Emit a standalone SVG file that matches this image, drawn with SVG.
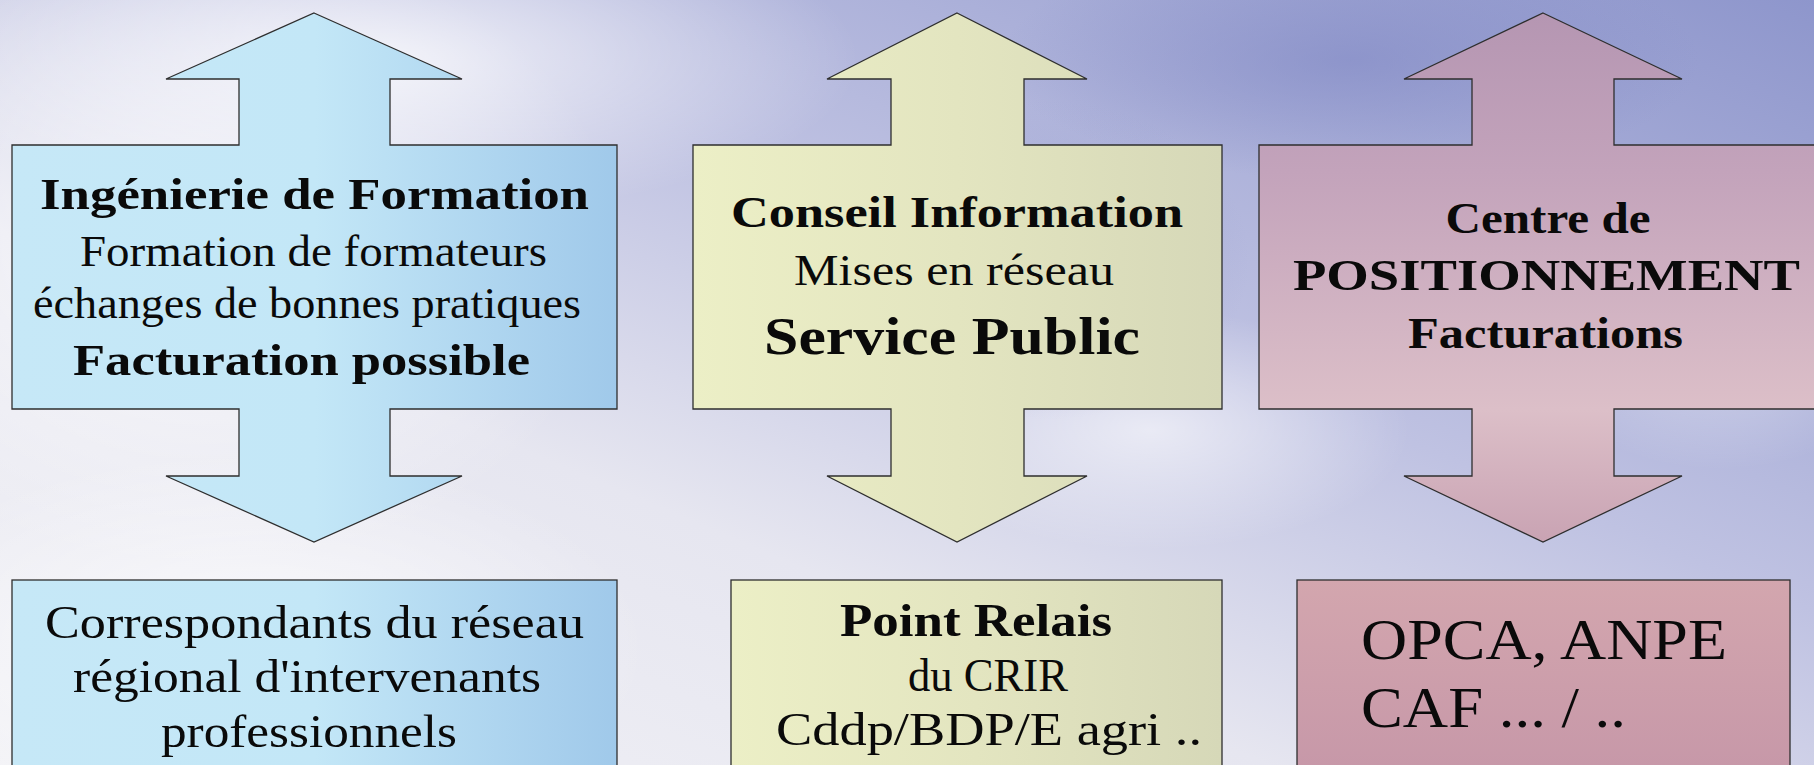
<svg xmlns="http://www.w3.org/2000/svg" width="1814" height="765" viewBox="0 0 1814 765">
<defs>
<linearGradient id="bg" x1="0" y1="1" x2="1" y2="0">
<stop offset="0" stop-color="#f2f2f6"/>
<stop offset="0.35" stop-color="#e6e6f0"/>
<stop offset="0.6" stop-color="#bfc2e2"/>
<stop offset="1" stop-color="#8e96cc"/>
</linearGradient>
<radialGradient id="cloudW" cx="0.5" cy="0.5" r="0.5">
<stop offset="0" stop-color="#ffffff" stop-opacity="0.75"/>
<stop offset="1" stop-color="#ffffff" stop-opacity="0"/>
</radialGradient>
<radialGradient id="cloudB" cx="0.5" cy="0.5" r="0.5">
<stop offset="0" stop-color="#8088c4" stop-opacity="0.6"/>
<stop offset="1" stop-color="#8088c4" stop-opacity="0"/>
</radialGradient>
<linearGradient id="blue" x1="0" y1="0" x2="1" y2="0">
<stop offset="0" stop-color="#c6e8f7"/>
<stop offset="0.5" stop-color="#c3e7f7"/>
<stop offset="1" stop-color="#a0c9ea"/>
</linearGradient>
<linearGradient id="yellow" x1="0" y1="0" x2="1" y2="0">
<stop offset="0" stop-color="#ecefc6"/>
<stop offset="0.5" stop-color="#e3e5c0"/>
<stop offset="1" stop-color="#d6d8b8"/>
</linearGradient>
<linearGradient id="pink" x1="0" y1="0" x2="0" y2="1">
<stop offset="0" stop-color="#b596b2"/>
<stop offset="0.3" stop-color="#c3a3bb"/>
<stop offset="0.75" stop-color="#dcbfc8"/>
<stop offset="1" stop-color="#c9a3b3"/>
</linearGradient>
<linearGradient id="pinkBox" x1="0" y1="0" x2="0" y2="1">
<stop offset="0" stop-color="#d3a6ae"/>
<stop offset="1" stop-color="#c697a8"/>
</linearGradient>
</defs>
<style>
.shape{stroke:#2e2e2e;stroke-width:1.3;stroke-linejoin:miter}
.t{font-family:"Liberation Serif","Times New Roman",serif;fill:#0a0a0a;text-anchor:middle}
.s{text-anchor:start}
.b{font-weight:bold}
.r{font-weight:normal}
</style>
<rect x="0" y="0" width="1814" height="765" fill="url(#bg)"/>
<ellipse cx="200" cy="250" rx="420" ry="320" fill="url(#cloudW)"/>
<ellipse cx="380" cy="60" rx="480" ry="160" fill="url(#cloudW)"/>
<ellipse cx="250" cy="650" rx="400" ry="200" fill="url(#cloudW)"/>
<ellipse cx="1150" cy="430" rx="260" ry="120" fill="url(#cloudW)" opacity="0.8"/>
<ellipse cx="1720" cy="330" rx="200" ry="140" fill="url(#cloudW)" opacity="0.6"/>
<ellipse cx="1350" cy="60" rx="350" ry="120" fill="url(#cloudB)"/>
<ellipse cx="1050" cy="260" rx="200" ry="160" fill="url(#cloudB)" opacity="0.5"/>
<g id="connectors"></g>
<g id="node-formation">
<polygon class="shape" fill="url(#blue)" points="314,13 462,79 390,79 390,145 617,145 617,409 390,409 390,476 462,476 314,542 166,476 239,476 239,409 12,409 12,145 239,145 239,79 166,79"/>
<text class="t b" x="314.5" y="209" font-size="44" textLength="549" lengthAdjust="spacingAndGlyphs">Ingénierie de Formation</text>
<text class="t r" x="313.5" y="266" font-size="44" textLength="467" lengthAdjust="spacingAndGlyphs">Formation de formateurs</text>
<text class="t r" x="307" y="318" font-size="44" textLength="548" lengthAdjust="spacingAndGlyphs">échanges de bonnes pratiques</text>
<text class="t b" x="301.5" y="375" font-size="44" textLength="457" lengthAdjust="spacingAndGlyphs">Facturation possible</text>
</g>
<g id="node-conseil">
<polygon class="shape" fill="url(#yellow)" points="957,13 1087,79 1024,79 1024,145 1222,145 1222,409 1024,409 1024,476 1087,476 957,542 827,476 891,476 891,409 693,409 693,145 891,145 891,79 827,79"/>
<text class="t b" x="957" y="227" font-size="44" textLength="452" lengthAdjust="spacingAndGlyphs">Conseil Information</text>
<text class="t r" x="954" y="285" font-size="44" textLength="320" lengthAdjust="spacingAndGlyphs">Mises en réseau</text>
<text class="t b" x="952" y="354" font-size="52" textLength="376" lengthAdjust="spacingAndGlyphs">Service Public</text>
</g>
<g id="node-positionnement">
<polygon class="shape" fill="url(#pink)" points="1543,13 1682,79 1614,79 1614,145 1827,145 1827,409 1614,409 1614,476 1682,476 1543,542 1404,476 1472,476 1472,409 1259,409 1259,145 1472,145 1472,79 1404,79"/>
<text class="t b" x="1548" y="233" font-size="44" textLength="205" lengthAdjust="spacingAndGlyphs">Centre de</text>
<text class="t b" x="1546.5" y="290" font-size="44" textLength="507" lengthAdjust="spacingAndGlyphs">POSITIONNEMENT</text>
<text class="t b" x="1545.5" y="348" font-size="44" textLength="275" lengthAdjust="spacingAndGlyphs">Facturations</text>
</g>
<g id="node-correspondants">
<rect class="shape" fill="url(#blue)" x="12" y="580" width="605" height="200"/>
<text class="t r" x="314.5" y="638" font-size="46" textLength="539" lengthAdjust="spacingAndGlyphs">Correspondants du réseau</text>
<text class="t r" x="307" y="692" font-size="46" textLength="468" lengthAdjust="spacingAndGlyphs">régional d'intervenants</text>
<text class="t r" x="309" y="747" font-size="46" textLength="296" lengthAdjust="spacingAndGlyphs">professionnels</text>
</g>
<g id="node-relais">
<rect class="shape" fill="url(#yellow)" x="731" y="580" width="491" height="200"/>
<text class="t b" x="976" y="636" font-size="46" textLength="272" lengthAdjust="spacingAndGlyphs">Point Relais</text>
<text class="t r" x="988" y="691" font-size="46" textLength="160" lengthAdjust="spacingAndGlyphs">du CRIR</text>
<text class="t r" x="989" y="745" font-size="46" textLength="426" lengthAdjust="spacingAndGlyphs">Cddp/BDP/E agri ..</text>
</g>
<g id="node-opca">
<rect class="shape" fill="url(#pinkBox)" x="1297" y="580" width="493" height="200"/>
<text class="t r s" x="1361" y="659" font-size="56" textLength="366" lengthAdjust="spacingAndGlyphs">OPCA, ANPE</text>
<text class="t r s" x="1361" y="727" font-size="56" textLength="265" lengthAdjust="spacingAndGlyphs">CAF ... / ..</text>
</g>
</svg>
